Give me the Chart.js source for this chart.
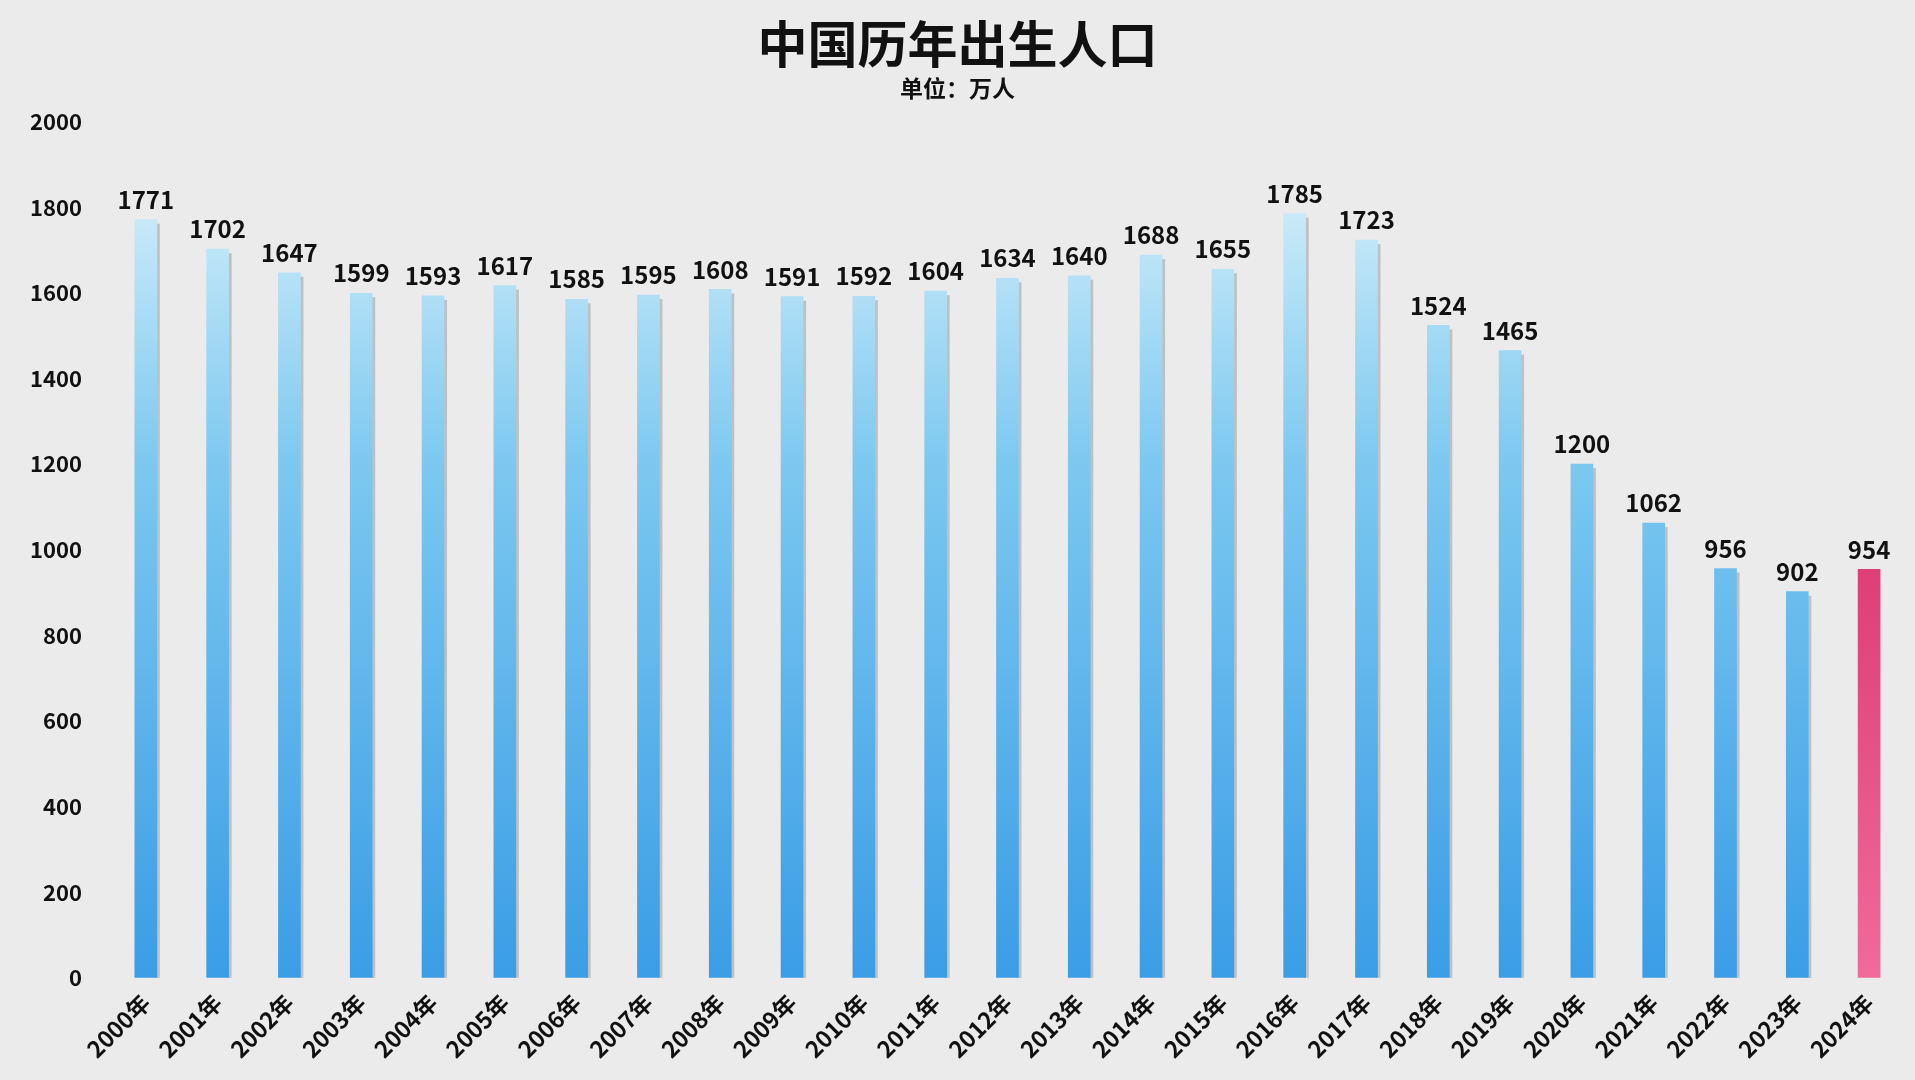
<!DOCTYPE html>
<html><head><meta charset="utf-8">
<script src="https://cdn.jsdelivr.net/npm/chart.js@4/dist/chart.umd.min.js"></script>
<style>html,body{margin:0;background:#ebebeb;}#w{width:1915px;height:1080px;}</style>
</head><body><div id="w"><canvas id="c"></canvas></div>
<script>
const years = ["2000年","2001年","2002年","2003年","2004年","2005年","2006年","2007年","2008年","2009年","2010年","2011年","2012年","2013年","2014年","2015年","2016年","2017年","2018年","2019年","2020年","2021年","2022年","2023年","2024年"];
const births = [1771,1702,1647,1599,1593,1617,1585,1595,1608,1591,1592,1604,1634,1640,1688,1655,1785,1723,1524,1465,1200,1062,956,902,954];
const yTicks = [0,200,400,600,800,1000,1200,1400,1600,1800,2000];
const FONT = "'Noto Sans CJK SC','Noto Sans',sans-serif";

function grad(ctx, area, last){
  const g = ctx.createLinearGradient(0, area.bottom, 0, area.top);
  if(last){ g.addColorStop(0,'#f06a9a'); g.addColorStop(1,'#c8104e'); }
  else { g.addColorStop(0,'#3a9de6'); g.addColorStop(0.6,'#7cc8f0'); g.addColorStop(1,'#e4f6fc'); }
  return g;
}
const extras = {
  id:'extras',
  beforeDatasetsDraw(chart){
    const ctx=chart.ctx; const meta=chart.getDatasetMeta(0);
    ctx.save(); ctx.fillStyle='rgba(140,140,140,0.45)';
    meta.data.forEach((b,i)=>{ if(i===births.length-1) return;
      const w=b.width; ctx.fillRect(b.x+w/2-2, b.y+4, 5, b.base-b.y-4); });
    ctx.restore();
  },
  afterDatasetsDraw(chart){
    const ctx=chart.ctx; const meta=chart.getDatasetMeta(0);
    ctx.save(); ctx.fillStyle='#111'; ctx.font="bold 24px "+FONT; ctx.textAlign='center'; ctx.textBaseline='bottom';
    meta.data.forEach((b,i)=>{ ctx.fillText(String(births[i]), b.x, b.y-8); });
    ctx.restore();
  }
};
new Chart(document.getElementById('c'),{
  type:'bar',
  data:{labels:years,datasets:[{data:births,barThickness:22,
    backgroundColor:(c)=>{const a=c.chart.chartArea; if(!a) return '#5ab4ec'; return grad(c.chart.ctx,a,c.dataIndex===births.length-1);} }]},
  options:{responsive:true,maintainAspectRatio:false,animation:false,
    layout:{padding:{left:10,right:10,top:0,bottom:14}},
    plugins:{legend:{display:false},tooltip:{enabled:false},
      title:{display:true,text:'中国历年出生人口',color:'#111',font:{family:FONT,size:50,weight:'bold'},padding:{top:14,bottom:0}},
      subtitle:{display:true,text:'单位：万人',color:'#111',font:{family:FONT,size:23,weight:'bold'},padding:{top:0,bottom:20}}},
    scales:{
      x:{grid:{display:false},border:{display:false},
        ticks:{color:'#111',font:{family:FONT,size:23,weight:'bold'},maxRotation:45,minRotation:45,autoSkip:false}},
      y:{min:0,max:2000,afterBuildTicks:(s)=>{s.ticks=yTicks.map(v=>({value:v}));},
        grid:{display:false},border:{display:false},
        ticks:{color:'#111',font:{family:FONT,size:22,weight:'bold'},padding:20,callback:(v)=>String(v)}}
    }},
  plugins:[extras]
});
</script></body></html>
